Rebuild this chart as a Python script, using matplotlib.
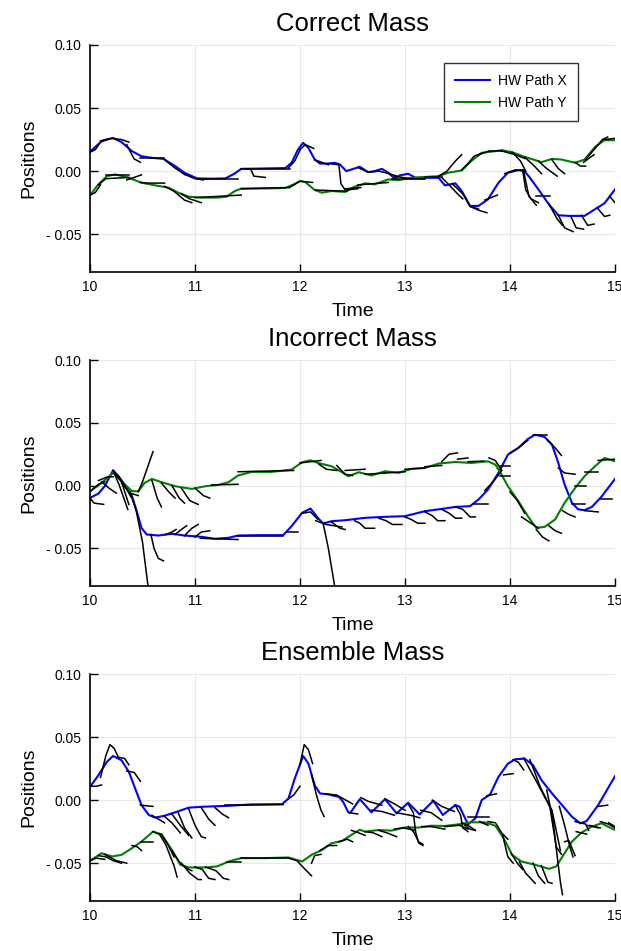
import numpy as np
import matplotlib
matplotlib.use("Agg")
import matplotlib.pyplot as plt

plt.rcParams['font.family'] = ['Liberation Sans', 'DejaVu Sans']

titles = ["Correct Mass", "Incorrect Mass", "Ensemble Mass"]
x_ticks = [10, 11, 12, 13, 14, 15]
y_ticks = [-0.05, 0.0, 0.05, 0.10]
y_tick_labels = ["- 0.05", "0.00", "0.05", "0.10"]
legend_labels = ["HW Path X", "HW Path Y"]

# ---------------- Panel 1: Correct Mass ----------------
p1_x = [(10.0,0.0153),(10.11,0.0237),(10.22,0.0263),(10.30,0.023),(10.40,0.0158),(10.49,0.0118),(10.59,0.0105),
        (10.70,0.0097),(10.81,0.004),(10.90,-0.0013),(11.02,-0.0058),(11.16,-0.006),(11.29,-0.0058),(11.38,-0.0018),
        (11.44,0.0018),(11.60,0.002),(11.86,0.0024),(11.92,0.0066),(11.98,0.017),(12.03,0.0224),(12.08,0.0184),
        (12.14,0.0092),(12.19,0.006),(12.27,0.006),(12.33,0.0066),(12.38,0.0053),(12.44,0.0),(12.49,0.0013),
        (12.57,0.0034),(12.65,-0.0008),(12.71,0.0),(12.78,0.0018),(12.84,-0.0013),(12.90,-0.0058),(12.95,-0.0034),
        (13.03,-0.0021),(13.10,-0.0053),(13.20,-0.0053),(13.32,-0.0053),(13.38,-0.0113),(13.48,-0.0097),
        (13.54,-0.0158),(13.62,-0.0276),(13.70,-0.0276),(13.79,-0.0224),(13.89,-0.0092),(13.98,-0.0013),
        (14.08,0.0008),(14.13,0.0008),(14.19,-0.0053),(14.27,-0.0145),(14.37,-0.0263),(14.46,-0.035),
        (14.56,-0.0355),(14.71,-0.0355),(14.81,-0.0302),(14.90,-0.0255),(15.0,-0.0145)]
p1_y = [(10.0,-0.0192),(10.08,-0.0105),(10.16,-0.004),(10.24,-0.0026),(10.37,-0.0053),(10.49,-0.0092),(10.62,-0.0113),
        (10.75,-0.0132),(10.84,-0.0171),(10.94,-0.0203),(11.06,-0.021),(11.22,-0.021),(11.30,-0.0203),(11.38,-0.0158),
        (11.44,-0.0139),(11.70,-0.0137),(11.86,-0.0134),(11.94,-0.0105),(12.0,-0.0079),(12.05,-0.0087),(12.14,-0.015),
        (12.21,-0.0171),(12.30,-0.0158),(12.43,-0.0165),(12.52,-0.0124),(12.62,-0.0097),(12.71,-0.0105),
        (12.84,-0.0066),(12.94,-0.0071),(13.06,-0.0053),(13.22,-0.0045),(13.32,-0.004),(13.41,-0.0013),
        (13.54,0.0005),(13.63,0.0079),(13.73,0.0145),(13.86,0.0158),(13.92,0.0166),(14.02,0.015),(14.14,0.0113),
        (14.30,0.0071),(14.40,0.0097),(14.49,0.0092),(14.62,0.0066),(14.71,0.0092),(14.81,0.0192),(14.90,0.0245),
        (15.0,0.0245)]
p1_x_pred = [
    [(10.0,0.015),(10.05,0.017),(10.1,0.023),(10.15,0.025)],
    [(10.1,0.024),(10.2,0.026),(10.3,0.025),(10.37,0.023)],
    [(10.35,0.021),(10.38,0.016),(10.42,0.0097),(10.48,0.007)],
    [(10.48,0.0105),(10.6,0.0105),(10.7,0.0105)],
    [(10.7,0.0097),(10.8,0.003),(10.9,-0.0026)],
    [(10.9,-0.0026),(11.0,-0.006),(11.08,-0.007)],
    [(11.03,-0.0066),(11.41,-0.0066)],
    [(11.44,0.0018),(11.53,0.0018),(11.56,-0.004),(11.67,-0.005)],
    [(11.49,0.0018),(11.9,0.0018)],
    [(11.89,0.0026),(11.95,0.008),(12.0,0.0166)],
    [(12.0,0.017),(12.05,0.021),(12.13,0.018)],
    [(12.14,0.009),(12.27,0.005)],
    [(12.27,0.006),(12.37,0.005),(12.39,-0.01),(12.43,-0.015),(12.55,-0.014)],
    [(12.55,0.003),(12.65,-0.001),(12.75,0.0)],
    [(12.75,0.0),(12.85,-0.002),(12.92,-0.004)],
    [(12.9,-0.004),(13.05,-0.006),(13.19,-0.006)],
    [(13.19,-0.005),(13.35,-0.005)],
    [(13.35,-0.005),(13.42,-0.011),(13.5,-0.018),(13.55,-0.022)],
    [(13.45,-0.01),(13.55,-0.018),(13.62,-0.028),(13.7,-0.03)],
    [(13.62,-0.028),(13.7,-0.031),(13.78,-0.033)],
    [(13.76,-0.023),(13.88,-0.019)],
    [(13.95,-0.002),(14.05,0.001),(14.13,0.0)],
    [(14.12,0.001),(14.15,-0.015),(14.2,-0.022),(14.27,-0.025)],
    [(14.13,0.0),(14.18,-0.02),(14.25,-0.027)],
    [(14.25,-0.02),(14.38,-0.02)],
    [(14.37,-0.026),(14.45,-0.038),(14.5,-0.043)],
    [(14.46,-0.035),(14.52,-0.045),(14.6,-0.048)],
    [(14.58,-0.036),(14.63,-0.045),(14.7,-0.046)],
    [(14.68,-0.035),(14.74,-0.043),(14.8,-0.042)],
    [(14.83,-0.029),(14.9,-0.036),(14.95,-0.035)],
    [(14.95,-0.02),(15.0,-0.025)],
]
p1_y_pred = [
    [(10.0,-0.019),(10.05,-0.017),(10.1,-0.011)],
    [(10.08,-0.011),(10.15,-0.006),(10.37,-0.005)],
    [(10.15,-0.003),(10.37,-0.003)],
    [(10.35,-0.007),(10.42,-0.005),(10.49,-0.003)],
    [(10.48,-0.009),(10.55,-0.0095),(10.71,-0.0095)],
    [(10.71,-0.012),(10.8,-0.016),(10.9,-0.023),(10.97,-0.025)],
    [(10.87,-0.018),(10.95,-0.022),(11.06,-0.025)],
    [(11.0,-0.021),(11.44,-0.019)],
    [(11.44,-0.014),(11.9,-0.013)],
    [(11.9,-0.013),(12.0,-0.008),(12.12,-0.009)],
    [(12.15,-0.015),(12.45,-0.016)],
    [(12.43,-0.014),(12.58,-0.013)],
    [(12.55,-0.011),(12.84,-0.009)],
    [(12.88,-0.006),(13.19,-0.006)],
    [(13.32,-0.004),(13.4,0.0),(13.48,0.008),(13.54,0.013)],
    [(13.54,0.001),(13.6,0.006),(13.66,0.012),(13.73,0.014)],
    [(13.7,0.013),(13.8,0.016),(13.92,0.016)],
    [(13.92,0.016),(14.05,0.013),(14.14,0.01)],
    [(14.02,0.015),(14.1,0.008),(14.15,0.0)],
    [(14.14,0.011),(14.22,0.005),(14.3,-0.002)],
    [(14.27,0.008),(14.35,0.002),(14.45,-0.004)],
    [(14.4,0.009),(14.46,0.002),(14.52,-0.002)],
    [(14.62,0.007),(14.67,0.004),(14.72,0.004)],
    [(14.7,0.007),(14.8,0.013)],
    [(14.72,0.009),(14.8,0.017),(14.88,0.025),(14.93,0.027)],
    [(14.9,0.025),(15.0,0.026)],
]

# ---------------- Panel 2: Incorrect Mass ----------------
p2_x = [(10.0,-0.0098),(10.08,-0.0064),(10.14,-0.0005),(10.22,0.0122),(10.27,0.0074),(10.33,0.0008),(10.40,-0.0085),
        (10.44,-0.019),(10.49,-0.0337),(10.54,-0.039),(10.65,-0.0398),(10.78,-0.0384),(10.90,-0.0398),(11.06,-0.0408),
        (11.19,-0.0424),(11.32,-0.0416),(11.41,-0.0398),(11.60,-0.0395),(11.84,-0.0395),(11.92,-0.0323),
        (12.02,-0.0217),(12.10,-0.0183),(12.17,-0.0257),(12.22,-0.0302),(12.30,-0.0284),(12.43,-0.0276),
        (12.62,-0.0257),(12.81,-0.0249),(13.0,-0.0244),(13.19,-0.0204),(13.35,-0.0186),(13.48,-0.017),
        (13.62,-0.0164),(13.70,-0.0111),(13.79,-0.0032),(13.89,0.0101),(13.98,0.0246),(14.08,0.03),(14.17,0.0371),
        (14.24,0.0405),(14.33,0.0387),(14.40,0.0326),(14.46,0.018),(14.52,0.0008),(14.59,-0.0138),(14.65,-0.019),
        (14.71,-0.0196),(14.78,-0.017),(14.87,-0.009),(15.0,0.0053)]
p2_y = [(10.0,-0.0045),(10.11,0.0021),(10.22,0.0101),(10.30,0.0034),(10.40,-0.0045),(10.46,-0.0045),(10.52,0.0021),
        (10.59,0.0053),(10.68,0.0027),(10.81,-0.0005),(10.97,-0.0027),(11.10,-0.0005),(11.22,0.0005),(11.32,0.0027),
        (11.41,0.008),(11.54,0.0109),(11.73,0.0109),(11.92,0.0127),(12.02,0.0186),(12.10,0.0201),(12.17,0.018),
        (12.30,0.0154),(12.40,0.0106),(12.46,0.0074),(12.56,0.0106),(12.68,0.008),(12.81,0.0114),(12.94,0.0101),
        (13.06,0.0133),(13.19,0.014),(13.32,0.0175),(13.48,0.0188),(13.63,0.018),(13.79,0.0193),(13.86,0.0167),
        (13.92,0.0087),(13.98,-0.0005),(14.08,-0.0125),(14.17,-0.0244),(14.25,-0.0337),(14.33,-0.0329),
        (14.43,-0.027),(14.52,-0.0138),(14.62,-0.0019),(14.71,0.0074),(14.81,0.0154),(14.90,0.022),(15.0,0.0193)]
p2_x_pred = [
    [(10.0,-0.01),(10.04,-0.014),(10.13,-0.015)],
    [(10.22,0.012),(10.28,0.0),(10.36,-0.019)],
    [(10.23,0.011),(10.3,0.003),(10.37,-0.015)],
    [(10.27,0.008),(10.33,0.0),(10.39,-0.009)],
    [(10.38,-0.005),(10.44,-0.02),(10.5,-0.045),(10.56,-0.085)],
    [(10.58,-0.039),(10.61,-0.05),(10.65,-0.058),(10.7,-0.06)],
    [(10.72,-0.039),(10.78,-0.037),(10.82,-0.035)],
    [(10.81,-0.039),(10.87,-0.035),(10.92,-0.032)],
    [(10.9,-0.040),(10.97,-0.034),(11.03,-0.031)],
    [(11.0,-0.041),(11.06,-0.037),(11.14,-0.036)],
    [(11.05,-0.042),(11.41,-0.043)],
    [(11.41,-0.04),(11.84,-0.04)],
    [(11.88,-0.037),(11.98,-0.037)],
    [(12.03,-0.022),(12.1,-0.021),(12.17,-0.027)],
    [(12.15,-0.028),(12.25,-0.031),(12.4,-0.033)],
    [(12.22,-0.03),(12.27,-0.05),(12.34,-0.085)],
    [(12.3,-0.029),(12.38,-0.034),(12.43,-0.035)],
    [(12.52,-0.028),(12.57,-0.03),(12.62,-0.034),(12.71,-0.034)],
    [(12.75,-0.026),(12.82,-0.028),(12.88,-0.031),(12.97,-0.031)],
    [(13.0,-0.025),(13.06,-0.027),(13.12,-0.03),(13.19,-0.03)],
    [(13.19,-0.021),(13.26,-0.024),(13.31,-0.028),(13.38,-0.028)],
    [(13.35,-0.019),(13.42,-0.022),(13.48,-0.026),(13.54,-0.026)],
    [(13.48,-0.017),(13.55,-0.019),(13.62,-0.025),(13.67,-0.025)],
    [(13.65,-0.015),(13.79,-0.015)],
    [(13.76,-0.004),(13.85,0.004),(13.92,0.012)],
    [(13.9,0.0155),(14.0,0.0155)],
    [(13.9,0.008),(14.0,0.008)],
    [(14.0,0.026),(14.08,0.03),(14.17,0.036)],
    [(14.22,0.04),(14.35,0.04)],
    [(14.36,0.036),(14.43,0.03),(14.49,0.024)],
    [(14.46,0.014),(14.52,0.01),(14.62,0.009)],
    [(14.59,-0.015),(14.71,-0.015)],
    [(14.71,-0.02),(14.84,-0.021)],
    [(14.87,-0.011),(14.97,-0.011)],
]
p2_y_pred = [
    [(10.0,-0.005),(10.08,0.001),(10.14,0.003)],
    [(10.08,0.004),(10.17,0.007),(10.22,0.007)],
    [(10.11,0.003),(10.18,-0.002),(10.25,-0.006)],
    [(10.3,0.002),(10.38,-0.006),(10.46,-0.008)],
    [(10.46,-0.005),(10.5,0.003),(10.55,0.015),(10.6,0.027)],
    [(10.59,0.004),(10.64,-0.01),(10.68,-0.017)],
    [(10.68,0.002),(10.75,-0.005),(10.81,-0.01)],
    [(10.78,0.0),(10.85,-0.01),(10.9,-0.014)],
    [(10.87,-0.002),(10.95,-0.012),(11.03,-0.015)],
    [(11.0,-0.002),(11.08,-0.008),(11.14,-0.01)],
    [(11.16,0.0005),(11.41,0.001)],
    [(11.41,0.011),(11.94,0.012)],
    [(12.0,0.018),(12.2,0.02)],
    [(12.18,0.017),(12.25,0.013),(12.35,0.012)],
    [(12.35,0.016),(12.43,0.009),(12.5,0.008)],
    [(12.43,0.012),(12.62,0.013)],
    [(12.62,0.009),(12.81,0.010)],
    [(12.81,0.01),(13.0,0.011)],
    [(13.0,0.013),(13.19,0.014)],
    [(13.19,0.015),(13.35,0.016)],
    [(13.35,0.019),(13.42,0.025),(13.5,0.026)],
    [(13.5,0.021),(13.6,0.022)],
    [(13.6,0.019),(13.75,0.0195)],
    [(13.8,0.022),(13.86,0.02),(13.92,0.012)],
    [(14.0,-0.005),(14.07,-0.012),(14.14,-0.022)],
    [(14.11,-0.025),(14.2,-0.03),(14.27,-0.034)],
    [(14.25,-0.035),(14.31,-0.041),(14.37,-0.044)],
    [(14.37,-0.032),(14.43,-0.036),(14.49,-0.038)],
    [(14.5,-0.02),(14.56,-0.023),(14.62,-0.025)],
    [(14.62,-0.0005),(14.72,-0.0005)],
    [(14.71,0.011),(14.84,0.011)],
    [(14.84,0.020),(15.0,0.021)],
]

# ---------------- Panel 3: Ensemble Mass ----------------
p3_x = [(10.0,0.0105),(10.08,0.0197),(10.16,0.0303),(10.22,0.035),(10.30,0.0316),(10.37,0.0224),(10.43,0.0092),
        (10.49,-0.0039),(10.56,-0.0118),(10.62,-0.0139),(10.71,-0.0124),(10.81,-0.0097),(10.94,-0.006),
        (11.06,-0.0053),(11.32,-0.0045),(11.54,-0.0034),(11.83,-0.0032),(11.89,0.0013),(11.95,0.0171),(12.03,0.035),
        (12.08,0.029),(12.14,0.0118),(12.19,0.0053),(12.27,0.0045),(12.37,0.0026),(12.41,-0.0013),(12.46,-0.0097),
        (12.48,-0.01),(12.57,0.0008),(12.68,-0.0097),(12.81,0.0008),(12.92,-0.0105),(13.03,-0.0021),(13.14,-0.0113),
        (13.27,-0.0005),(13.36,-0.0118),(13.48,-0.0039),(13.52,-0.0053),(13.60,-0.0192),(13.67,-0.0145),(13.73,0.0),
        (13.81,0.0045),(13.89,0.0184),(13.98,0.0289),(14.05,0.0324),(14.14,0.0329),(14.22,0.0276),(14.30,0.0158),
        (14.40,0.0053),(14.49,-0.0034),(14.59,-0.0132),(14.67,-0.0184),(14.73,-0.0166),(14.84,-0.0039),(15.0,0.019)]
p3_y = [(10.0,-0.0481),(10.11,-0.0421),(10.21,-0.0447),(10.30,-0.0434),(10.40,-0.0381),(10.49,-0.0329),(10.60,-0.025),
        (10.68,-0.0271),(10.78,-0.0395),(10.86,-0.0513),(10.94,-0.0534),(11.10,-0.0534),(11.21,-0.0526),
        (11.32,-0.0487),(11.44,-0.046),(11.67,-0.046),(11.89,-0.0455),(12.02,-0.0487),(12.11,-0.0434),
        (12.21,-0.0395),(12.30,-0.0342),(12.40,-0.0324),(12.49,-0.0276),(12.57,-0.0235),(12.62,-0.025),
        (12.75,-0.0237),(12.87,-0.0242),(13.0,-0.0216),(13.13,-0.0218),(13.25,-0.0203),(13.38,-0.0205),
        (13.51,-0.0192),(13.63,-0.0176),(13.76,-0.0176),(13.86,-0.0203),(13.94,-0.0302),(14.02,-0.0434),
        (14.11,-0.0487),(14.24,-0.0513),(14.37,-0.0545),(14.44,-0.0526),(14.51,-0.0434),(14.59,-0.0329),
        (14.68,-0.0258),(14.78,-0.021),(14.87,-0.0184),(15.0,-0.0237)]
p3_x_pred = [
    [(10.0,0.011),(10.06,0.011),(10.11,0.012)],
    [(10.1,0.018),(10.15,0.035),(10.19,0.044),(10.23,0.041),(10.27,0.034)],
    [(10.27,0.034),(10.33,0.033),(10.37,0.028)],
    [(10.35,0.023),(10.42,0.022),(10.48,0.015)],
    [(10.48,-0.004),(10.6,-0.005)],
    [(10.59,-0.012),(10.65,-0.015),(10.71,-0.018)],
    [(10.71,-0.013),(10.78,-0.018),(10.86,-0.026)],
    [(10.78,-0.011),(10.86,-0.02),(10.94,-0.028)],
    [(10.84,-0.01),(10.9,-0.022),(10.97,-0.03)],
    [(10.94,-0.007),(11.0,-0.02),(11.06,-0.029),(11.1,-0.03)],
    [(11.06,-0.006),(11.13,-0.015),(11.19,-0.02)],
    [(11.19,-0.006),(11.26,-0.011),(11.32,-0.014)],
    [(11.29,-0.004),(11.44,-0.004)],
    [(11.44,-0.004),(11.84,-0.0035)],
    [(11.89,0.001),(11.94,0.004),(12.0,0.011)],
    [(12.0,0.028),(12.04,0.044),(12.08,0.04),(12.12,0.029)],
    [(12.11,0.02),(12.16,0.003),(12.2,-0.008),(12.23,-0.013)],
    [(12.24,0.005),(12.35,0.004),(12.5,-0.003)],
    [(12.47,-0.01),(12.55,-0.011)],
    [(12.58,0.002),(12.65,-0.001),(12.78,-0.004)],
    [(12.68,-0.008),(12.78,-0.009),(12.9,-0.012)],
    [(12.81,0.001),(12.9,-0.003),(13.0,-0.008)],
    [(12.92,-0.01),(13.05,-0.012),(13.14,-0.014)],
    [(13.03,-0.003),(13.08,-0.01),(13.1,-0.025),(13.13,-0.034),(13.17,-0.036)],
    [(13.15,-0.008),(13.25,-0.01),(13.35,-0.016)],
    [(13.26,0.0),(13.35,-0.005),(13.47,-0.009)],
    [(13.48,-0.004),(13.53,-0.012),(13.55,-0.022),(13.6,-0.025)],
    [(13.57,-0.02),(13.62,-0.023),(13.67,-0.024)],
    [(13.6,-0.013),(13.8,-0.013)],
    [(13.78,0.0034),(13.87,0.005)],
    [(13.94,0.02),(14.03,0.021)],
    [(14.03,0.032),(14.08,0.03),(14.13,0.024)],
    [(14.13,0.0333),(14.27,0.012),(14.38,-0.0055),(14.44,-0.037),(14.49,-0.043)],
    [(14.19,0.032),(14.29,0.01),(14.4,-0.008),(14.48,-0.04)],
    [(14.35,0.008),(14.41,-0.016),(14.45,-0.045),(14.48,-0.065),(14.5,-0.075)],
    [(14.47,-0.005),(14.52,-0.02),(14.57,-0.037),(14.6,-0.045)],
    [(14.62,-0.017),(14.72,-0.019),(14.75,-0.024)],
    [(14.76,-0.02),(14.84,-0.022)],
    [(14.84,-0.005),(14.93,-0.004)],
    [(14.94,-0.018),(15.0,-0.021)],
]
p3_y_pred = [
    [(10.0,-0.048),(10.06,-0.046),(10.14,-0.047)],
    [(10.08,-0.044),(10.15,-0.045),(10.22,-0.048),(10.3,-0.05)],
    [(10.14,-0.043),(10.25,-0.048),(10.35,-0.05)],
    [(10.4,-0.036),(10.45,-0.037),(10.49,-0.04)],
    [(10.49,-0.033),(10.6,-0.033)],
    [(10.6,-0.025),(10.66,-0.027),(10.72,-0.035),(10.8,-0.052),(10.83,-0.061)],
    [(10.68,-0.027),(10.74,-0.035),(10.8,-0.045)],
    [(10.78,-0.04),(10.86,-0.05),(10.94,-0.055),(10.97,-0.056)],
    [(10.87,-0.05),(10.95,-0.058),(11.03,-0.063),(11.06,-0.063)],
    [(11.0,-0.053),(11.07,-0.055),(11.13,-0.062),(11.19,-0.063)],
    [(11.1,-0.053),(11.2,-0.056),(11.27,-0.062),(11.32,-0.063)],
    [(11.3,-0.049),(11.44,-0.049)],
    [(11.44,-0.046),(11.89,-0.046)],
    [(11.89,-0.046),(11.97,-0.048),(12.05,-0.055),(12.11,-0.06)],
    [(12.11,-0.05),(12.14,-0.044),(12.2,-0.043)],
    [(12.19,-0.04),(12.27,-0.036),(12.35,-0.036)],
    [(12.37,-0.033),(12.45,-0.031),(12.5,-0.033)],
    [(12.49,-0.024),(12.56,-0.026),(12.62,-0.028)],
    [(12.62,-0.025),(12.7,-0.026),(12.78,-0.029)],
    [(12.75,-0.024),(12.83,-0.026),(12.92,-0.029)],
    [(12.9,-0.023),(12.98,-0.022),(13.1,-0.024)],
    [(13.03,-0.021),(13.08,-0.025),(13.13,-0.033),(13.17,-0.035)],
    [(13.16,-0.021),(13.25,-0.021),(13.38,-0.023)],
    [(13.38,-0.021),(13.52,-0.02),(13.6,-0.023)],
    [(13.54,-0.018),(13.6,-0.02),(13.67,-0.024)],
    [(13.71,-0.017),(13.79,-0.02)],
    [(13.79,-0.017),(13.86,-0.018)],
    [(13.87,-0.019),(13.92,-0.026),(13.98,-0.031)],
    [(13.93,-0.028),(13.98,-0.045),(14.03,-0.05)],
    [(14.01,-0.042),(14.07,-0.05),(14.12,-0.055)],
    [(14.09,-0.049),(14.15,-0.058),(14.24,-0.066)],
    [(14.22,-0.05),(14.27,-0.06),(14.33,-0.066)],
    [(14.3,-0.052),(14.36,-0.065),(14.4,-0.066)],
    [(14.52,-0.033),(14.56,-0.032),(14.62,-0.044)],
    [(14.63,-0.025),(14.73,-0.027)],
    [(14.73,-0.02),(14.86,-0.022)],
    [(14.86,-0.017),(14.94,-0.019),(15.0,-0.022)],
]

panels = [
    (p1_x, p1_y, p1_x_pred, p1_y_pred),
    (p2_x, p2_y, p2_x_pred, p2_y_pred),
    (p3_x, p3_y, p3_x_pred, p3_y_pred),
]

W, H = 621, 951
fig = plt.figure(figsize=(W / 100, H / 100), dpi=100)
axes_px = [(45, 272), (360, 586), (674, 901)]
left_px, right_px = 90, 615

BLUE = (0.0, 0.0, 1.0)
GREEN = (0.0, 0.5, 0.0)

for i, (title, (px, py, xpred, ypred), (top, bot)) in enumerate(zip(titles, panels, axes_px)):
    ax = fig.add_axes([left_px / W, 1 - bot / H, (right_px - left_px) / W, (bot - top) / H])
    px = np.array(px); py = np.array(py)
    lx, = ax.plot(px[:, 0], px[:, 1], color=BLUE, lw=1.5, zorder=2)
    ly, = ax.plot(py[:, 0], py[:, 1], color=GREEN, lw=1.5, zorder=2)
    for seg in xpred + ypred:
        s = np.array(seg)
        ax.plot(s[:, 0], s[:, 1], color='black', lw=1.1, zorder=3)
    ax.set_xlim(10, 15)
    ax.set_ylim(-0.08, 0.10)
    ax.set_xticks(x_ticks)
    ax.set_xticklabels([str(t) for t in x_ticks])
    ax.set_yticks(y_ticks)
    ax.set_yticklabels(y_tick_labels)
    ax.tick_params(direction='in', length=6, width=1, labelsize=10, pad=6)
    ax.grid(True, color='#e8e8e8', lw=0.8)
    ax.set_axisbelow(True)
    for side in ['top', 'right']:
        ax.spines[side].set_visible(False)
    for side in ['left', 'bottom']:
        ax.spines[side].set_linewidth(1.2)
    ax.set_title(title, fontsize=18.5, pad=10)
    ax.set_xlabel("Time", fontsize=14, labelpad=6)
    ax.set_ylabel("Positions", fontsize=14, labelpad=6)
    if i == 0:
        leg = ax.legend([lx, ly], legend_labels, loc='upper right',
                        bbox_to_anchor=((578 - left_px) / (right_px - left_px), (bot - 63) / (bot - top)),
                        borderaxespad=0.0,
                        fontsize=10, frameon=True, fancybox=False, edgecolor='black',
                        handlelength=2.5, handletextpad=0.6, borderpad=0.8, labelspacing=0.55)
        leg.get_frame().set_linewidth(1.0)

fig.savefig("out.png", dpi=100)
